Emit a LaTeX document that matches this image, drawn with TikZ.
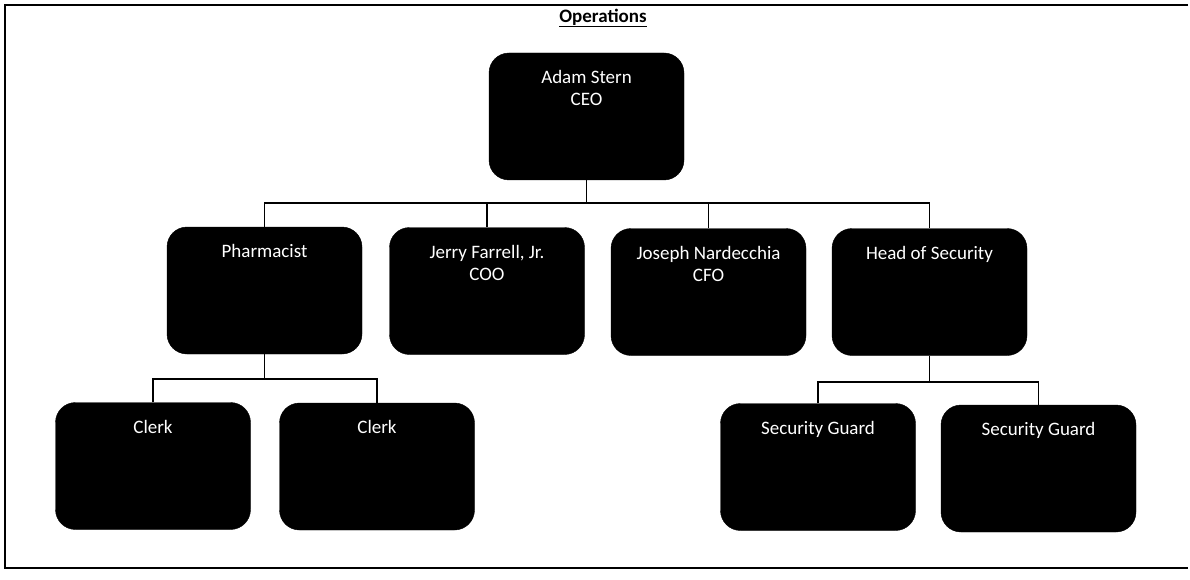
\documentclass[tikz,border=0pt]{standalone}
\usepackage{fontspec}
\setmainfont{Carlito}
\begin{document}
\begin{tikzpicture}[x=1pt,y=-1pt,
  box/.style={fill=black, draw=black, rounded corners=20pt, minimum width=195pt, minimum height=127pt, inner sep=0pt},
  lab/.style={text=white, align=center, font=\fontsize{19}{22}\selectfont, anchor=north, yshift=-14pt},
  conn/.style={draw=black, line width=1.2pt},
  frame/.style={draw=black, line width=1.8pt}]
\useasboundingbox (0,0) rectangle (1190,580);
\coordinate (tr) at (1188,5);
\coordinate (tl) at (5,5);
\coordinate (bl) at (5,568);
\coordinate (br) at (1188,568);
\draw[frame] (tr) -- (tl) -- (bl) -- (br);
\node[font=\fontsize{19}{22}\selectfont\bfseries] (title) at (603,18) {\underline{Operations}};
\node[box, label={[lab]north:{Adam Stern\\CEO}}] (ceo) at (586.5,116.5) {};
\node[box, label={[lab]north:{Pharmacist}}] (pharm) at (264.5,290.5) {};
\node[box, label={[lab]north:{Jerry Farrell, Jr.\\COO}}] (coo) at (487,291) {};
\node[box, label={[lab]north:{Joseph Nardecchia\\CFO}}] (cfo) at (708.5,292) {};
\node[box, label={[lab]north:{Head of Security}}] (hos) at (929.5,292) {};
\node[box, label={[lab]north:{Clerk}}] (clerk1) at (153,466) {};
\node[box, label={[lab]north:{Clerk}}] (clerk2) at (377,466.5) {};
\node[box, label={[lab]north:{Security Guard}}] (sg1) at (818,467) {};
\node[box, label={[lab]north:{Security Guard}}] (sg2) at (1038.5,468.5) {};
\coordinate (bus1) at (0,203);
\coordinate (bus2) at (0,379);
\coordinate (bus3) at (0,382);
\draw[conn] (ceo.south) -- (ceo.south |- bus1);
\draw[conn] (pharm.north) |- (hos.north |- bus1) -- (hos.north);
\draw[conn] (coo.north) -- (coo.north |- bus1);
\draw[conn] (cfo.north) -- (cfo.north |- bus1);
\draw[conn] (pharm.south) -- (pharm.south |- bus2);
\draw[conn] (clerk1.north) |- (clerk2.north |- bus2) -- (clerk2.north);
\draw[conn] (hos.south) -- (hos.south |- bus3);
\draw[conn] (sg1.north) |- (sg2.north |- bus3) -- (sg2.north);
\end{tikzpicture}
\end{document}
